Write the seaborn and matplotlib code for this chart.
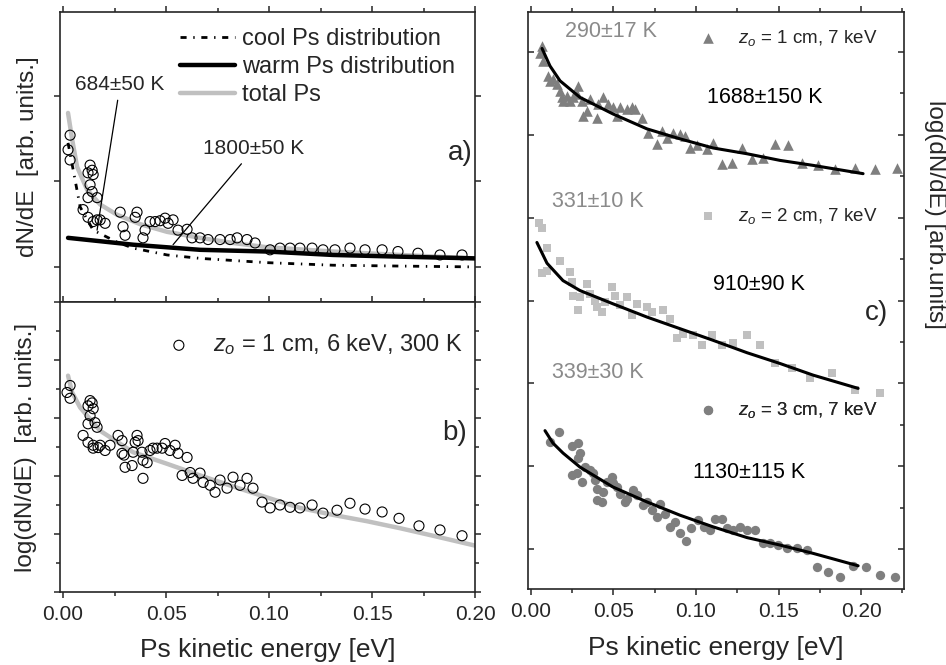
import numpy as np
import seaborn as sns
import matplotlib.pyplot as plt
from matplotlib.ticker import MultipleLocator, NullFormatter

sns.set_style("ticks")
plt.rcParams["font.family"] = ["Liberation Sans", "DejaVu Sans"]
plt.rcParams["mathtext.fontset"] = "custom"
plt.rcParams["mathtext.it"] = "Liberation Sans:italic"
plt.rcParams["mathtext.rm"] = "Liberation Sans"
plt.rcParams["axes.linewidth"] = 1.2

# ---- panel a: dN/dE (linear) ----
a_x = [0.0034, 0.0024, 0.0034, 0.0131, 0.0141, 0.0121, 0.0146, 0.0131, 0.0141, 0.0121,
       0.0165, 0.0097, 0.0121, 0.0146, 0.0165, 0.0180, 0.0204, 0.0277, 0.0291, 0.0301,
       0.0359, 0.0350, 0.0398, 0.0388, 0.0422, 0.0447, 0.0471, 0.0495, 0.0510, 0.0534,
       0.0558, 0.0602, 0.0626, 0.0665, 0.0704, 0.0762, 0.0811, 0.0845, 0.0893, 0.0932,
       0.1005, 0.1053, 0.1102, 0.1150, 0.1209, 0.1262, 0.1320, 0.1393, 0.1466, 0.1549,
       0.1626, 0.1723, 0.1830, 0.1937]
a_y = [2.54, 2.37, 2.25, 2.19, 2.13, 2.10, 2.08, 1.96, 1.88, 1.81,
       1.81, 1.67, 1.58, 1.53, 1.55, 1.55, 1.51, 1.64, 1.47, 1.37,
       1.64, 1.58, 1.43, 1.34, 1.53, 1.53, 1.54, 1.57, 1.51, 1.55,
       1.43, 1.44, 1.34, 1.34, 1.32, 1.32, 1.32, 1.34, 1.32, 1.28,
       1.20, 1.22, 1.22, 1.22, 1.22, 1.20, 1.20, 1.22, 1.20, 1.20,
       1.18, 1.16, 1.14, 1.14]

total_x = [0.0024, 0.0044, 0.0068, 0.0117, 0.0180, 0.0262, 0.0374, 0.0505, 0.0665, 0.0825,
           0.0990, 0.1310, 0.1636, 0.2000]
total_y = [2.80, 2.49, 2.17, 1.90, 1.73, 1.61, 1.50, 1.41, 1.34, 1.28,
           1.23, 1.18, 1.14, 1.10]
warm_x = [0.0024, 0.0340, 0.0665, 0.0990, 0.1310, 0.1636, 0.2000]
warm_y = [1.34, 1.26, 1.20, 1.18, 1.14, 1.12, 1.10]
cool_x = [0.0024, 0.0058, 0.0083, 0.0146, 0.0262, 0.0340, 0.0505, 0.0665, 0.0990, 0.1310,
          0.1636, 0.2000]
cool_y = [2.45, 2.02, 1.70, 1.43, 1.29, 1.22, 1.14, 1.10, 1.05, 1.02,
          1.01, 1.00]

# ---- panel b: log(dN/dE) ----
b_x = [0.0034, 0.0019, 0.0034, 0.0131, 0.0121, 0.0141, 0.0146, 0.0131, 0.0155, 0.0121,
       0.0165, 0.0097, 0.0121, 0.0146, 0.0146, 0.0170, 0.0180, 0.0204, 0.0228, 0.0267,
       0.0286, 0.0286, 0.0296, 0.0301, 0.0335, 0.0340, 0.0350, 0.0359, 0.0364, 0.0383,
       0.0388, 0.0388, 0.0408, 0.0422, 0.0437, 0.0456, 0.0481, 0.0495, 0.0519, 0.0544,
       0.0558, 0.0602, 0.0578, 0.0617, 0.0631, 0.0665, 0.0680, 0.0714, 0.0738, 0.0762,
       0.0796, 0.0825, 0.0859, 0.0893, 0.0922, 0.0966, 0.1005, 0.1053, 0.1102, 0.1150,
       0.1209, 0.1262, 0.1330, 0.1393, 0.1466, 0.1549, 0.1631, 0.1728, 0.1830, 0.1937]
b_y = [3.56, 3.44, 3.34, 3.30, 3.21, 3.26, 3.16, 3.04, 2.92, 2.90,
       2.84, 2.70, 2.58, 2.53, 2.48, 2.49, 2.53, 2.44, 2.53, 2.70,
       2.61, 2.39, 2.36, 2.15, 2.18, 2.41, 2.58, 2.70, 2.61, 2.41,
       2.27, 1.96, 2.23, 2.44, 2.48, 2.48, 2.48, 2.56, 2.44, 2.53,
       2.39, 2.32, 2.01, 2.06, 1.96, 2.05, 1.89, 1.84, 1.72, 1.93,
       1.79, 1.98, 1.84, 1.96, 1.79, 1.55, 1.45, 1.50, 1.46, 1.45,
       1.50, 1.36, 1.41, 1.53, 1.43, 1.38, 1.27, 1.14, 1.07, 0.97]
bfit_x = [0.0024, 0.0044, 0.0083, 0.0180, 0.0340, 0.0505, 0.0665, 0.0825, 0.0990, 0.1150,
          0.1310, 0.1476, 0.1636, 0.1796, 0.2000]
bfit_y = [3.73, 3.44, 3.18, 2.78, 2.41, 2.21, 2.01, 1.82, 1.63, 1.45,
          1.33, 1.22, 1.10, 0.97, 0.80]

# ---- panel c: three source positions ----
tri_x = [0.0067, 0.0055, 0.0073, 0.0103, 0.0115, 0.0133, 0.0158, 0.0176, 0.0188, 0.0194,
         0.0218, 0.0236, 0.0255, 0.0285, 0.0279, 0.0309, 0.0315, 0.0339, 0.0358, 0.0400,
         0.0406, 0.0436, 0.0467, 0.0497, 0.0521, 0.0539, 0.0582, 0.0612, 0.0630, 0.0673,
         0.0709, 0.0764, 0.0794, 0.0824, 0.0861, 0.0903, 0.0933, 0.0964, 0.1006, 0.1067,
         0.1103, 0.1158, 0.1218, 0.1279, 0.1339, 0.1406, 0.1479, 0.1558, 0.1642, 0.1739,
         0.1842, 0.1964, 0.2085, 0.2218]
tri_y = [7.07, 6.98, 6.89, 6.71, 6.65, 6.67, 6.61, 6.53, 6.45, 6.41,
         6.47, 6.41, 6.45, 6.59, 6.49, 6.41, 6.23, 6.29, 6.43, 6.20,
         6.37, 6.45, 6.37, 6.33, 6.23, 6.33, 6.31, 6.33, 6.31, 6.20,
         6.02, 5.89, 6.05, 5.96, 6.02, 6.01, 5.99, 5.84, 5.87, 5.83,
         5.90, 5.65, 5.66, 5.84, 5.71, 5.72, 5.89, 5.87, 5.66, 5.63,
         5.59, 5.60, 5.59, 5.60]
fit1_x = [0.0067, 0.0115, 0.0176, 0.0297, 0.0497, 0.0703, 0.0903, 0.1103, 0.1309, 0.1509,
          0.1709, 0.2012]
fit1_y = [7.04, 6.83, 6.65, 6.45, 6.25, 6.07, 5.95, 5.84, 5.77, 5.69,
          5.63, 5.53]

sq_x = [0.0048, 0.0067, 0.0097, 0.0067, 0.0097, 0.0176, 0.0236, 0.0248, 0.0255, 0.0297,
        0.0285, 0.0339, 0.0358, 0.0388, 0.0400, 0.0430, 0.0448, 0.0491, 0.0509, 0.0539,
        0.0582, 0.0612, 0.0642, 0.0703, 0.0733, 0.0800, 0.0842, 0.0885, 0.0921, 0.0982,
        0.1036, 0.1097, 0.1158, 0.1224, 0.1309, 0.1388, 0.1479, 0.1582, 0.1691, 0.1824,
        0.1964, 0.2115]
sq_y = [4.94, 4.88, 4.63, 4.33, 4.36, 4.48, 4.34, 4.22, 4.06, 4.04,
        3.88, 4.20, 4.08, 4.00, 3.92, 3.86, 3.98, 4.16, 4.06, 3.94,
        4.04, 3.82, 3.96, 3.92, 3.86, 3.88, 3.78, 3.55, 3.60, 3.58,
        3.46, 3.58, 3.46, 3.49, 3.58, 3.46, 3.25, 3.18, 3.07, 3.12,
        2.92, 2.89]
fit2_x = [0.0036, 0.0097, 0.0194, 0.0297, 0.0497, 0.0703, 0.0903, 0.1103, 0.1309, 0.1509,
          0.1709, 0.1982]
fit2_y = [4.70, 4.45, 4.24, 4.12, 3.96, 3.80, 3.66, 3.52, 3.37, 3.24,
          3.10, 2.94]

dot_x = [0.0115, 0.0170, 0.0248, 0.0285, 0.0297, 0.0285, 0.0248, 0.0279, 0.0309, 0.0327,
         0.0358, 0.0376, 0.0388, 0.0400, 0.0430, 0.0400, 0.0436, 0.0461, 0.0491, 0.0497,
         0.0521, 0.0539, 0.0570, 0.0582, 0.0618, 0.0642, 0.0679, 0.0703, 0.0733, 0.0764,
         0.0782, 0.0812, 0.0842, 0.0873, 0.0903, 0.0939, 0.0970, 0.1012, 0.1048, 0.1085,
         0.1115, 0.1158, 0.1188, 0.1224, 0.1267, 0.1309, 0.1358, 0.1406, 0.1448, 0.1497,
         0.1552, 0.1612, 0.1673, 0.1733, 0.1800, 0.1873, 0.1952, 0.2030, 0.2115, 0.2206]
dot_y = [2.29, 2.41, 2.24, 2.28, 2.16, 2.10, 1.89, 1.92, 1.81, 1.99,
         1.95, 1.92, 1.83, 1.73, 1.57, 1.59, 1.69, 1.81, 1.87, 1.80,
         1.75, 1.67, 1.57, 1.61, 1.71, 1.65, 1.53, 1.57, 1.47, 1.39,
         1.55, 1.43, 1.27, 1.33, 1.20, 1.10, 1.25, 1.35, 1.27, 1.23,
         1.37, 1.36, 1.25, 1.23, 1.27, 1.23, 1.23, 1.08, 1.08, 1.05,
         1.01, 1.02, 0.99, 0.78, 0.72, 0.66, 0.80, 0.78, 0.69, 0.67]
fit3_x = [0.0085, 0.0133, 0.0194, 0.0297, 0.0497, 0.0703, 0.0903, 0.1103, 0.1309, 0.1509,
          0.1709, 0.1982]
fit3_y = [2.43, 2.28, 2.16, 1.99, 1.75, 1.57, 1.41, 1.27, 1.14, 1.05,
          0.95, 0.80]

W, H = 946, 665
fig = plt.figure(figsize=(W / 100, H / 100), dpi=100)
ax_a = fig.add_axes([60 / W, 1 - 302 / H, 415 / W, 290 / H])
ax_b = fig.add_axes([60 / W, 1 - 592 / H, 415 / W, 290 / H])
ax_c = fig.add_axes([528 / W, 1 - 589 / H, 376 / W, 577 / H])

light = "#c0c0c0"
dark = "#7f7f7f"
tick_fs = 15
lab_fs = 17.5

# panel a
sns.lineplot(x=total_x, y=total_y, ax=ax_a, color=light, lw=3.2, sort=False,
             estimator=None, label="total Ps", legend=False, zorder=2)
sns.scatterplot(x=a_x, y=a_y, ax=ax_a, marker="o", s=52, color="black",
                facecolor="none", edgecolor="black", linewidth=0.8, legend=False, zorder=3)
sns.lineplot(x=cool_x, y=cool_y, ax=ax_a, color="black", lw=2.0, sort=False,
             estimator=None, linestyle=(0, (2.2, 2.4, 0.5, 2.4)),
             label="cool Ps distribution", legend=False, zorder=4)
sns.lineplot(x=warm_x, y=warm_y, ax=ax_a, color="black", lw=3.2, sort=False,
             estimator=None, label="warm Ps distribution", legend=False, zorder=4)
h, l = ax_a.get_legend_handles_labels()
order = [l.index("cool Ps distribution"), l.index("warm Ps distribution"), l.index("total Ps")]
ax_a.legend([h[i] for i in order], [l[i] for i in order], loc="center left",
            bbox_to_anchor=(0.289, 0.81), frameon=False, fontsize=17, borderpad=0,
            borderaxespad=0, handlelength=2.33, handletextpad=0.3, labelspacing=0.25)
ax_a.annotate("684±50 K", xy=(0.0165, 1.43), xytext=(0.0277, 3.13), fontsize=15,
              ha="center", va="center",
              arrowprops=dict(arrowstyle="-", color="black", lw=0.9, shrinkA=2, shrinkB=0))
ax_a.annotate("1800±50 K", xy=(0.0534, 1.26), xytext=(0.0927, 2.38), fontsize=15,
              ha="center", va="center",
              arrowprops=dict(arrowstyle="-", color="black", lw=0.9, shrinkA=2, shrinkB=0))
ax_a.text(0.995, 0.514, "a)", transform=ax_a.transAxes, fontsize=20, ha="right", va="center")
ax_a.set_xlim(-0.0015, 0.2)
ax_a.set_ylim(0.59, 3.98)
ax_a.yaxis.set_major_locator(MultipleLocator(1))
ax_a.set_ylabel("dN/dE  [arb. units.]", fontsize=lab_fs)
ax_a.yaxis.set_label_coords(-0.05, 0.5)

# panel b
sns.lineplot(x=bfit_x, y=bfit_y, ax=ax_b, color=light, lw=3.2, sort=False,
             estimator=None, legend=False, zorder=2)
sns.scatterplot(x=b_x, y=b_y, ax=ax_b, marker="o", s=52, color="black",
                facecolor="none", edgecolor="black", linewidth=0.8,
                label=r"$z_o$ = 1 cm, 6 keV, 300 K", legend=False, zorder=3)
ax_b.legend(loc="center left", bbox_to_anchor=(0.258, 0.852), frameon=False, fontsize=17,
            borderpad=0, borderaxespad=0, handlelength=1.0, handletextpad=0.94)
ax_b.text(0.981, 0.548, "b)", transform=ax_b.transAxes, fontsize=20, ha="right", va="center")
ax_b.set_xlim(-0.0015, 0.2)
ax_b.set_ylim(0, 5)
ax_b.yaxis.set_major_locator(MultipleLocator(1))
ax_b.yaxis.set_minor_locator(MultipleLocator(0.5))
ax_b.set_ylabel("log(dN/dE)  [arb. units.]", fontsize=lab_fs)
ax_b.yaxis.set_label_coords(-0.055, 0.5)
ax_b.set_xlabel("Ps kinetic energy [eV]", fontsize=19)
ax_b.xaxis.set_label_coords(0.5, -0.16)

for ax in (ax_a, ax_b):
    ax.xaxis.set_major_locator(MultipleLocator(0.05))
    ax.xaxis.set_minor_locator(MultipleLocator(0.025))
    ax.tick_params(which="both", direction="out", top=True, right=True, width=1.1)
    ax.tick_params(which="major", length=4.5)
    ax.tick_params(which="minor", length=3)
    ax.yaxis.set_major_formatter(NullFormatter())
ax_a.tick_params(axis="x", labelbottom=False)
ax_b.tick_params(axis="x", labelsize=tick_fs, pad=5)
ax_b.xaxis.set_major_formatter(plt.FuncFormatter(lambda v, p: f"{v:.2f}"))

# panel c
sns.scatterplot(x=tri_x, y=tri_y, ax=ax_c, marker="^", s=58, color=dark, edgecolor=dark,
                linewidth=0, label=r"$z_o$ = 1 cm, 7 keV", legend=False, zorder=3)
sns.scatterplot(x=sq_x, y=sq_y, ax=ax_c, marker="s", s=30, color=light, edgecolor=light,
                linewidth=0, label=r"$z_o$ = 2 cm, 7 keV", legend=False, zorder=3)
sns.scatterplot(x=dot_x, y=dot_y, ax=ax_c, marker="o", s=45, color=dark, edgecolor=dark,
                linewidth=0, label=r"$z_o$ = 3 cm, 7 keV", legend=False, zorder=3)
for fx, fy in ((fit1_x, fit1_y), (fit2_x, fit2_y), (fit3_x, fit3_y)):
    sns.lineplot(x=fx, y=fy, ax=ax_c, color="black", lw=2.2, sort=False,
                 estimator=None, legend=False, zorder=4)

hc, lc = ax_c.get_legend_handles_labels()
leg_y = [0.955, 0.646, 0.310]
for i, (hh, ll) in enumerate(zip(hc, lc)):
    leg = ax_c.legend([hh], [ll], loc="center left", bbox_to_anchor=(0.455, leg_y[i]),
                      frameon=False, fontsize=13.5, borderpad=0, borderaxespad=0,
                      handlelength=1.0, handletextpad=1.05)
    ax_c.add_artist(leg)

ax_c.text(0.0206, 7.24, "290±17 K", color="#8a8a8a", fontsize=15.5, va="center")
ax_c.text(0.1067, 6.45, "1688±150 K", color="black", fontsize=15.5, va="center")
ax_c.text(0.0127, 5.20, "331±10 K", color="#8a8a8a", fontsize=15.5, va="center")
ax_c.text(0.1100, 4.19, "910±90 K", color="black", fontsize=15.5, va="center")
ax_c.text(0.0127, 3.13, "339±30 K", color="#8a8a8a", fontsize=15.5, va="center")
ax_c.text(0.0980, 1.92, "1130±115 K", color="black", fontsize=15.5, va="center")
ax_c.text(0.957, 0.478, "c)", transform=ax_c.transAxes, fontsize=20, ha="right", va="center")

ax_c.set_xlim(-0.0018, 0.226)
ax_c.set_ylim(0.52, 7.48)
ax_c.xaxis.set_major_locator(MultipleLocator(0.05))
ax_c.xaxis.set_minor_locator(MultipleLocator(0.025))
ax_c.yaxis.set_major_locator(MultipleLocator(1))
ax_c.yaxis.set_minor_locator(MultipleLocator(0.5))
ax_c.yaxis.set_major_formatter(NullFormatter())
ax_c.xaxis.set_major_formatter(plt.FuncFormatter(lambda v, p: f"{v:.2f}"))
ax_c.tick_params(axis="x", which="both", direction="out", top=True, width=1.1)
ax_c.tick_params(axis="y", which="both", direction="in", right=True, width=1.1)
ax_c.tick_params(axis="y", which="minor", left=False)
ax_c.tick_params(which="major", length=4.5)
ax_c.tick_params(which="minor", length=3)
ax_c.tick_params(axis="x", labelsize=tick_fs, pad=5)
ax_c.set_xlabel("Ps kinetic energy [eV]", fontsize=19)
ax_c.xaxis.set_label_coords(0.5, -0.081)

fig.text(935 / W, 1 - 214 / H, "log(dN/dE) [arb.units]", rotation=270,
         ha="center", va="center", fontsize=17.5)

fig.savefig("out.png", dpi=100)
